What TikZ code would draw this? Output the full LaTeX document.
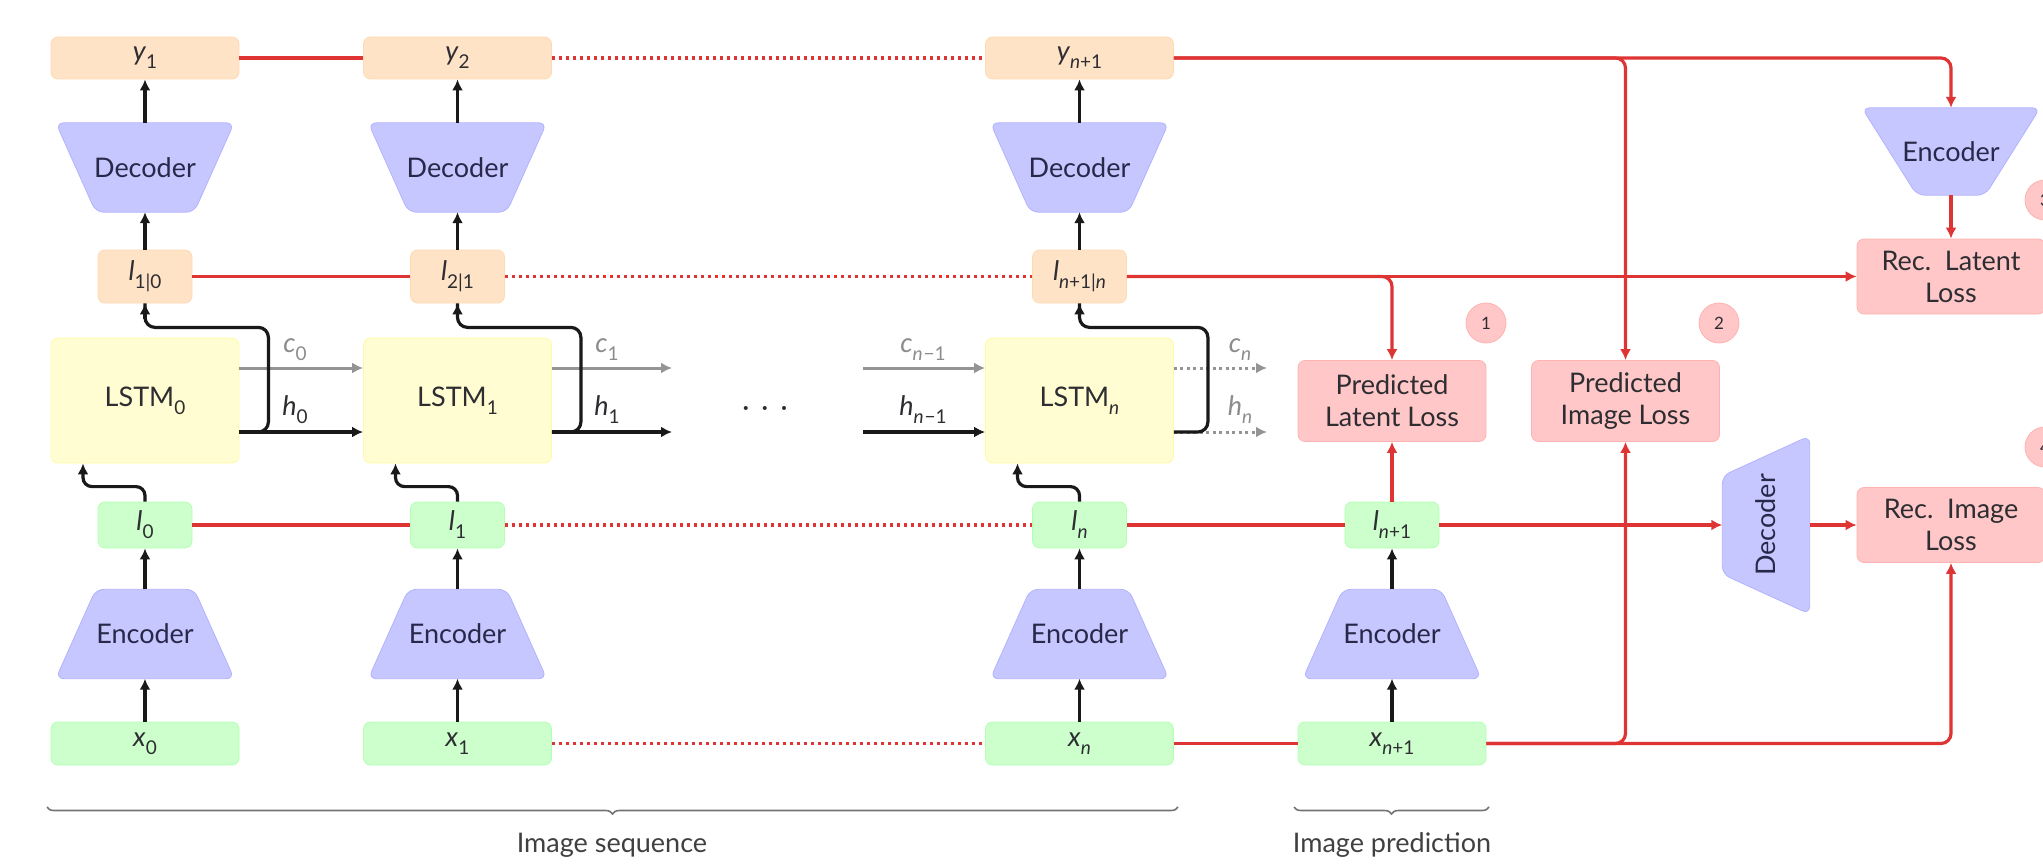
\documentclass[tikz,border=0pt]{standalone}
\usepackage{fontspec}
\setmainfont{Lato}
\usetikzlibrary{arrows.meta,calc,decorations.pathreplacing,backgrounds}
\definecolor{myred}{RGB}{222,52,52}
\definecolor{txt}{RGB}{45,45,50}
\definecolor{trtxt}{RGB}{40,40,75}
\newcommand\sbs[1]{\raisebox{-0.3em}{\fontsize{19}{19}\selectfont #1}}
\newcommand\va[2]{\textit{#1}\sbs{#2}}
\newcommand\trapwideup[2]{\filldraw[trapfill] (#1.north west) -- (#1.north east) -- ([xshift=-#2]#1.south east) -- ([xshift=#2]#1.south west) -- cycle;}
\newcommand\trapnarrowup[2]{\filldraw[trapfill] (#1.south west) -- (#1.south east) -- ([xshift=-#2]#1.north east) -- ([xshift=#2]#1.north west) -- cycle;}
\begin{document}
\begin{tikzpicture}[x=1pt,y=-1pt,
  font=\fontsize{27}{32}\selectfont,
  base/.style={rounded corners=7pt, line width=0.8pt, align=center, inner sep=0pt, text=txt},
  ybox/.style={base, fill=orange!22, draw=orange!30, minimum width=188, minimum height=42},
  pbox/.style={base, fill=orange!22, draw=orange!30, minimum width=94, minimum height=53},
  gbox/.style={base, fill=green!20, draw=green!30, minimum width=94, minimum height=46},
  xbox/.style={base, fill=green!20, draw=green!30, minimum width=188, minimum height=43},
  lstm/.style={base, fill=yellow!18, draw=yellow!35, minimum width=188, minimum height=125},
  loss/.style={base, fill=red!22, draw=red!30, minimum width=188, minimum height=81},
  trapnode/.style={inner sep=0pt, minimum width=178, minimum height=89, text=trtxt},
  trapfill/.style={fill=blue!22, draw=blue!30, line width=0.8pt, rounded corners=8pt},
  circ/.style={circle, fill=red!22, draw=red!30, line width=0.8pt, minimum size=40, inner sep=0pt, text=txt, font=\fontsize{17}{17}\selectfont},
  blk/.style={line width=3.2pt, draw=black!90, -{Latex[length=11pt,width=11pt]}},
  blkl/.style={line width=3.2pt, draw=black!90},
  gry/.style={line width=3pt, draw=black!42, -{Latex[length=11pt,width=11pt]}},
  gryd/.style={line width=3pt, draw=black!42, dash pattern=on 3pt off 3.5pt, -{Latex[length=11pt,width=11pt]}},
  rd/.style={line width=3.4pt, draw=myred},
  rdd/.style={line width=3.4pt, draw=myred, dash pattern=on 3pt off 4pt},
  rda/.style={line width=3.2pt, draw=myred, -{Latex[length=11pt,width=11pt]}},
  lab/.style={text=txt, inner sep=0pt},
  brace/.style={draw=black!55, line width=1.6pt, decorate, decoration={brace, mirror, amplitude=7pt}}
]
\useasboundingbox (0,0) rectangle (2043,864);
\clip (0,0) rectangle (2043,864);

% ---------- y row
\node[ybox] (y0) at (145,58) {\va{y}{1}};
\node[ybox] (y1) at (457.5,58) {\va{y}{2}};
\node[ybox] (yn) at (1079.5,58) {\va{y}{\textit{n}+1}};
% ---------- decoders
\node[trapnode] (d0) at (145,167.5) {Decoder};
\node[trapnode] (d1) at (457.5,167.5) {Decoder};
\node[trapnode] (dn) at (1079.5,167.5) {Decoder};
% ---------- predicted latents
\node[pbox] (p0) at (145,276.5) {\va{l}{1|0}};
\node[pbox] (p1) at (457.5,276.5) {\va{l}{2|1}};
\node[pbox] (pn) at (1079.5,276.5) {\va{l}{\textit{n}+1|\textit{n}}};
% ---------- LSTM
\node[lstm] (L0) at (145,400.5) {LSTM\sbs{0}};
\node[lstm] (L1) at (457.5,400.5) {LSTM\sbs{1}};
\node[lstm] (Ln) at (1079.5,400.5) {LSTM\sbs{\textit{n}}};
% ---------- latents
\node[gbox] (l0) at (145,525) {\va{l}{0}};
\node[gbox] (l1) at (457.5,525) {\va{l}{1}};
\node[gbox] (ln) at (1079.5,525) {\va{l}{\textit{n}}};
\node[gbox] (lp) at (1392,525) {\va{l}{\textit{n}+1}};
% ---------- encoders
\node[trapnode] (e0) at (145,634) {Encoder};
\node[trapnode] (e1) at (457.5,634) {Encoder};
\node[trapnode] (en) at (1079.5,634) {Encoder};
\node[trapnode] (ep) at (1392,634) {Encoder};
% ---------- inputs
\node[xbox] (x0) at (145,743.5) {\va{x}{0}};
\node[xbox] (x1) at (457.5,743.5) {\va{x}{1}};
\node[xbox] (xn) at (1079.5,743.5) {\va{x}{\textit{n}}};
\node[xbox] (xp) at (1392,743.5) {\va{x}{\textit{n}+1}};
% ---------- losses
\node[loss] (pl) at (1392,401) {Predicted\\Latent Loss};
\node[loss] (pi) at (1625.5,401) {Predicted\\Image Loss};
\node[loss, minimum height=75] (rl) at (1951,276.5) {Rec.\ \ Latent\\Loss};
\node[loss, minimum height=75] (ri) at (1951,525) {Rec.\ \ Image\\Loss};
\node[circ] (k1) at (1486,323) {1};
\node[circ] (k2) at (1719,323) {2};
\node[circ] (k3) at (2045,200) {3};
\node[circ] (k4) at (2045,447) {4};
% ---------- right encoder / vertical decoder
\node[trapnode, minimum height=87] (er) at (1951,151.5) {Encoder};
\node[trapnode, minimum height=87, rotate=90] (dv) at (1766,525) {Decoder};

\begin{pgfonlayer}{background}
  \trapwideup{d0}{40pt}
  \trapwideup{d1}{40pt}
  \trapwideup{dn}{40pt}
  \trapnarrowup{e0}{40pt}
  \trapnarrowup{e1}{40pt}
  \trapnarrowup{en}{40pt}
  \trapnarrowup{ep}{40pt}
  \trapwideup{er}{55pt}
  \filldraw[trapfill] (dv.south west) -- (dv.south east) -- ([yshift=-40pt]dv.north east) -- ([yshift=40pt]dv.north west) -- cycle;
\end{pgfonlayer}

% ---------- free ends
\coordinate (c1e) at (672,368);
\coordinate (h1e) at (672,432);
\coordinate (cms) at (863,368);
\coordinate (hms) at (863,432);
\coordinate (cne) at (1267,368);
\coordinate (hne) at (1267,432);

% ---------- gray cell state arrows
\draw[gry] ([yshift=32.5pt]L0.east) -- ([yshift=32.5pt]L1.west);
\draw[gry] ([yshift=32.5pt]L1.east) -- (c1e);
\draw[gry] (cms) -- ([yshift=32.5pt]Ln.west);
\draw[gryd] ([yshift=32.5pt]Ln.east) -- (cne);
\draw[gryd] ([yshift=-31.5pt]Ln.east) -- (hne);

% ---------- black arrows
\foreach \c in {0,1,n,p}{
  \draw[blk] (x\c.north) -- (e\c.south);
  \draw[blk] (e\c.north) -- (l\c.south);
}
\foreach \c in {0,1,n}{
  \draw[blk, rounded corners=9pt] (l\c.north) -- ++(0,-15) -| ([xshift=-62pt]L\c.south);
  \draw[blk] (p\c.north) -- (d\c.south);
  \draw[blk] (d\c.north) -- (y\c.south);
}
\draw[blk] ([yshift=-31.5pt]L0.east) -- ([yshift=-31.5pt]L1.west);
\draw[blk] ([yshift=-31.5pt]L1.east) -- (h1e);
\draw[blk] (hms) -- ([yshift=-31.5pt]Ln.west);
\draw[blkl, rounded corners=10pt] ([yshift=-31.5pt]L0.east) -- ++(29,0) |- ([yshift=-24pt]p0.south) -- (p0.south);
\draw[blkl, rounded corners=10pt] ([yshift=-31.5pt]L1.east) -- ++(29,0) |- ([yshift=-24pt]p1.south) -- (p1.south);
\draw[blkl, rounded corners=10pt] ([yshift=-31.5pt]Ln.east) -- ++(34,0) |- ([yshift=-24pt]pn.south) -- (pn.south);
\draw[blk] ([yshift=-16pt]p0.south) -- (p0.south);
\draw[blk] ([yshift=-16pt]p1.south) -- (p1.south);
\draw[blk] ([yshift=-16pt]pn.south) -- (pn.south);

% ---------- labels
\node[lab, text=black!45] (lc0) at (295,350) {\va{c}{0}};
\node[lab] (lh0) at (295,410) {\va{h}{0}};
\node[lab, text=black!45] (lc1) at (607,350) {\va{c}{1}};
\node[lab] (lh1) at (607,410) {\va{h}{1}};
\node[lab, text=black!45] (lcm) at (923,350) {\va{c}{\textit{n}\kern0.05em−1}};
\node[lab] (lhm) at (923,410) {\va{h}{\textit{n}\kern0.05em−1}};
\node[lab, text=black!45] (lcn) at (1240,350) {\va{c}{\textit{n}}};
\node[lab, text=black!45] (lhn) at (1240,410) {\va{h}{\textit{n}}};
\node[lab] (dots) at (765,411) {·\hspace{0.45em}·\hspace{0.45em}·};

% ---------- red connections
\draw[rd] (y0.east) -- (y1.west);
\draw[rdd] (y1.east) -- (yn.west);
\draw[rda, rounded corners=10pt] (yn.east) -| (er.north);
\draw[rda, rounded corners=10pt] (yn.east) -| (pi.north);
\draw[rda] (er.south) -- (rl.north);
\draw[rd] (p0.east) -- (p1.west);
\draw[rdd] (p1.east) -- (pn.west);
\draw[rda] (pn.east) -- (rl.west);
\draw[rda, rounded corners=10pt] (pn.east) -| (pl.north);
\draw[rd] (l0.east) -- (l1.west);
\draw[rdd] (l1.east) -- (ln.west);
\draw[rd] (ln.east) -- (lp.west);
\draw[rda] (lp.east) -- (dv.north);
\draw[rda] (dv.south) -- (ri.west);
\draw[rda] (lp.north) -- (pl.south);
\draw[rdd] (x1.east) -- (xn.west);
\draw[rd] (xn.east) -- (xp.west);
\draw[rda, rounded corners=10pt] (xp.east) -| (pi.south);
\draw[rda, rounded corners=10pt] (xp.east) -| (ri.south);

% ---------- braces
\coordinate (b1a) at (47,807);
\coordinate (b1b) at (1178,807);
\coordinate (b2a) at (1294,807);
\coordinate (b2b) at (1489,807);
\draw[brace] (b1a) -- (b1b);
\draw[brace] (b2a) -- (b2b);
\node[lab, text=black!75] (bs) at (612,845) {Image sequence};
\node[lab, text=black!75] (bp) at (1392,845) {Image prediction};
\end{tikzpicture}
\end{document}
